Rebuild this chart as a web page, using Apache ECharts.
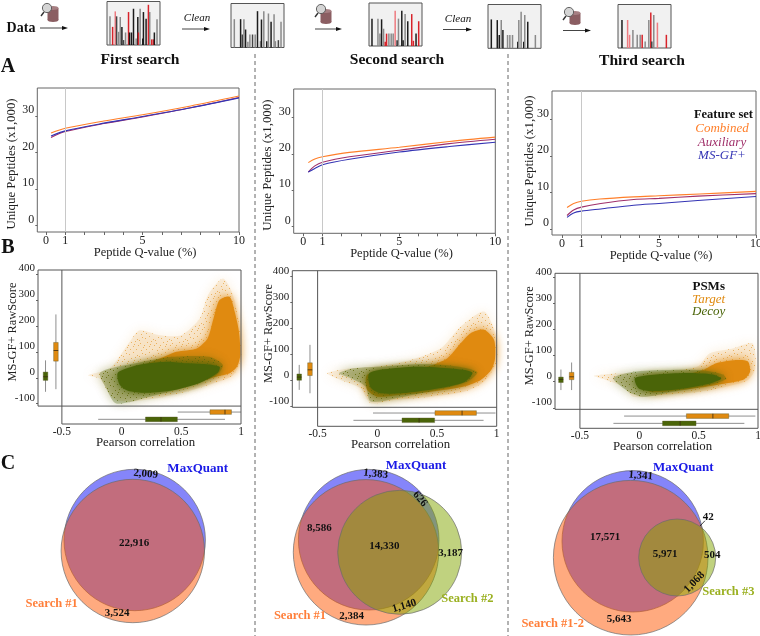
<!DOCTYPE html>
<html><head><meta charset="utf-8">
<style>html,body{margin:0;padding:0;background:#fff}#c{width:760px;height:636px}</style>
<script src="https://cdn.jsdelivr.net/npm/echarts@6/dist/echarts.min.js"></script>
</head><body><div id="c"></div>
<script>
// ---- Panel A: peptide curves  [q-value %, unique peptides x1000]
const a1Combined=[[.26,25.3],[1,26.6],[3,28.6],[5,30.3],[7.5,32.7],[10,35.4]];
const a1Auxiliary=[[.26,24.1],[1,25.7],[3,27.9],[5,29.7],[7.5,32.2],[10,35.0]];
const a1MsGf=[[.26,24.5],[1,25.9],[3,28.0],[5,29.8],[7.5,32.2],[10,34.9]];
const a2Combined=[[.26,17.6],[.6,18.6],[1,19.2],[2.4,20.4],[5,21.8],[7.6,23.4],[10,24.6]];
const a2Auxiliary=[[.26,15.0],[.6,16.7],[1,17.7],[2.4,19.2],[5,21.0],[7.6,22.8],[10,24.0]];
const a2MsGf=[[.26,15.0],[.6,16.0],[1,17.0],[2.4,18.5],[5,20.5],[7.6,22.0],[10,23.2]];
const a3Combined=[[.26,5.9],[.6,7.0],[1,7.6],[1.95,8.2],[3.7,8.8],[5,9.1],[7.1,9.6],[10,10.3]];
const a3Auxiliary=[[.26,3.7],[.6,5.2],[1,6.0],[2,7.0],[3.7,8.1],[5,8.4],[7,9.0],[10,9.7]];
const a3MsGf=[[.26,3.2],[.6,4.4],[1,4.9],[2,5.5],[3.7,6.5],[5,7.0],[7,7.8],[10,8.9]];

// ---- Panel B: outlines of the PSM clouds [Pearson, RawScore]
const b1TargetHalo=[[-.282,10],[-.10,36],[.067,138],[.151,183],[.318,164],[.5,164],[.654,228],[.723,318],[.849,382],[.933,318],[.994,177],[1,74],[.933,10],[.765,-22],[.542,-54],[.29,-79],[.067,-92],[-.073,-79],[-.184,-3]];
const b1TargetCore=[[.15,42],[.32,74],[.46,100],[.63,113],[.72,151],[.77,228],[.82,299],[.905,312],[.947,254],[.983,177],[.994,87],[.966,42],[.905,17],[.793,4],[.654,-15],[.486,-35],[.318,-47],[.151,-41],[.095,-22],[.081,23]];
const b1DecoyHalo=[[-.184,17],[-.10,36],[.179,62],[.43,81],[.737,81],[.849,49],[.793,10],[.542,-35],[.235,-73],[-.045,-99],[-.128,-41]];
const b1DecoyCore=[[-.03,20],[.151,50],[.374,62],[.542,56],[.709,52],[.821,42],[.807,20],[.654,-20],[.43,-48],[.207,-58],[.053,-50],[-.017,-26]];
const b2TargetHalo=[[-.419,27],[-.223,46],[0,53],[.279,78],[.531,123],[.698,206],[.894,264],[.992,174],[1,72],[.894,-5],[.726,-44],[.447,-63],[.14,-76],[-.056,-88],[-.14,-31],[-.307,1]];
const b2TargetCore=[[-.084,21],[.196,40],[.419,53],[.587,85],[.698,142],[.782,181],[.894,194],[.978,155],[.986,85],[.955,40],[.866,1],[.726,-24],[.447,-44],[.196,-56],[0,-63],[-.084,-37]];
const b2DecoyHalo=[[-.321,27],[-.196,46],[.056,53],[.391,62],[.67,53],[.838,31],[.754,-5],[.503,-37],[.223,-63],[-.056,-82],[-.098,-24],[-.223,8]];
const b2DecoyCore=[[-.07,25],[.056,42],[.335,52],[.615,45],[.796,30],[.726,-8],[.503,-32],[.251,-48],[.028,-50],[-.056,-28]];
const b3TargetHalo=[[-.385,23],[-.19,32],[.089,36],[.486,58],[.592,109],[.788,128],[.955,147],[.978,51],[.913,6],[.732,-19],[.508,-38],[.173,-51],[-.05,-58],[-.134,-19],[-.274,6]];
const b3TargetCore=[[.034,10],[.341,23],[.536,45],[.648,71],[.788,83],[.913,79],[.933,38],[.885,10],[.732,-6],[.564,-19],[.341,-32],[.089,-38]];
const b3DecoyHalo=[[-.218,13],[-.05,38],[.229,45],[.508,45],[.704,28],[.732,10],[.564,-15],[.285,-38],[.034,-58],[-.092,-38]];
const b3DecoyCore=[[-.036,14],[.145,28],[.397,34],[.62,28],[.69,12],[.564,-10],[.313,-30],[.089,-36],[-.008,-24]];

// ---- Panel B boxplots [position, low, q1, median, q3, high]
const b1ScoreTarget=[-.55,-44,64,105,136,244], b1ScoreDecoy=[-.637,-54,-10,4,22,67];
const b1PearsonTarget=[-132,.47,.74,.866,.92,1], b1PearsonDecoy=[-160,-.196,.20,.33,.467,.866];
const b2ScoreTarget=[-.564,-50,18,40,67,136], b2ScoreDecoy=[-.654,-37,0,12,24,59];
const b2PearsonTarget=[-126,-.036,.483,.71,.83,.99], b2PearsonDecoy=[-154,-.2,.207,.35,.48,.89];
const b3ScoreTarget=[-.57,-32,8,19,36,74], b3ScoreDecoy=[-.66,-32,-3,9,18,47];
const b3PearsonTarget=[-132,-.128,.397,.62,.754,.978], b3PearsonDecoy=[-160,-.218,.196,.344,.478,.885];

// ---- Panel C: Venn circles [cx, cy, r]
const venn1Circles=[[134.7,90,70.7],[132.8,101,71.7]];
const venn2Circles=[[108.7,89.7,70.3],[106,102.3,72.7],[139.7,102.3,62]];
const venn3Circles=[[122.7,91.3,70.7],[120.7,107.7,77.3],[167.2,107.5,38.5]];

// ---- Schematic spectra [m/z slot, intensity, kind]
const spectrum1=[[9,87,'g'],[17,55,'r'],[25,102,'p'],[29,87,'d'],[35,40,'g'],[40,85,'g'],[45,55,'k'],[50,15,'d'],[56,38,'g'],[65,100,'r'],[68,38,'k'],[74,38,'k'],[80,110,'k'],[88,20,'g'],[93,85,'k'],[95,38,'r'],[100,110,'g'],[108,20,'k'],[110,100,'k'],[118,80,'k'],[125,122,'r'],[129,100,'g'],[135,17,'r'],[140,17,'r'],[143,38,'k'],[151,78,'g']];
const spectrum2=[[10,85,'g'],[29,85,'k'],[34,39,'d'],[39,85,'g'],[44,54,'k'],[51,17,'g'],[57,39,'g'],[65,39,'d'],[73,39,'g'],[80,109,'k'],[89,19,'g'],[92,84,'k'],[99,109,'g'],[108,19,'k'],[113,102,'g'],[121,77,'k'],[130,100,'g'],[134,19,'g'],[143,22,'d'],[151,77,'g']];
const spectrum3=[[9,84,'k'],[27,84,'g'],[33,38,'g'],[38,82,'k'],[44,53,'g'],[49,13,'r'],[53,38,'r'],[60,38,'g'],[67,38,'g'],[73,38,'g'],[79,108,'p'],[85,18,'k'],[89,84,'g'],[99,108,'k'],[103,18,'k'],[109,98,'g'],[117,76,'k'],[129,98,'r'],[134,16,'r'],[142,38,'k'],[150,76,'r']];
const spectrum4=[[10,87,'k'],[28,85,'k'],[34,40,'k'],[40,85,'g'],[45,55,'k'],[59,40,'g'],[66,40,'g'],[74,40,'g'],[90,20,'k'],[93,85,'g'],[100,110,'g'],[108,20,'k'],[111,100,'g'],[120,80,'k'],[143,40,'g']];
const spectrum5=[[12,85,'k'],[29,85,'p'],[35,40,'p'],[45,55,'g'],[58,40,'g'],[67,40,'g'],[73,40,'r'],[82,20,'g'],[93,85,'g'],[99,108,'r'],[102,20,'d'],[108,100,'g'],[119,77,'p'],[146,40,'r']];

// ---- Text
const featureSet=['Combined','Auxiliary','MS-GF+'];
const psmKinds=['Target','Decoy'];
const titles=['First search','Second search','Third search'];
const yTicksA=[0,10,20,30], xTicksA=[0,1,5,10], xMinorA=[0,1,2,3,4,5,6,7,8,9,10];
const yTicksB=[-100,0,100,200,300,400], xTicksB=[-.5,0,.5,1];

const SERIF='"Liberation Serif"';
const INK='#222', FRAME='#666';
const LINECOL=['#ff7f2a','#a0306a','#3434b4'];
const TARGET='#e08a10', DECOY='#4a6408';
const SPEC={k:'#1c1c1c',d:'#444',g:'#8a8a8a',r:'#d8232a',p:'#ee7b80'};
const NOLINE={show:false,onZero:false};

const grid=[],xAxis=[],yAxis=[],series=[];
function addGrid(g,x,y){const n=grid.length;g.outerBoundsMode='none';grid.push(g);
  x.gridIndex=n;y.gridIndex=n;x.nameMoveOverlap=false;y.nameMoveOverlap=false;xAxis.push(x);yAxis.push(y);return n;}

// speckle tile used to fill the sparse fringe of a PSM cloud
const SPECKS=[[1,2],[5,0],[9,3],[14,1],[3,6],[7,5],[12,7],[0,9],[5,10],[10,9],[15,11],[2,13],[8,13],[13,14],[6,8],[11,4]];
function speckle(color){
  const c=document.createElement('canvas');c.width=c.height=16;const x=c.getContext('2d');x.fillStyle=color;x.globalAlpha=.55;
  SPECKS.forEach(p=>x.fillRect(p[0],p[1],1,1));
  return {image:c,repeat:'repeat'};
}

// ---- A panels
function panelA(box,xMin,yMin,yMax,curves,gap,pad){
  const i=addGrid({left:box[0],top:box[1],width:box[2]-box[0],height:box[3]-box[1],show:true,borderColor:FRAME,borderWidth:1},
   {type:'value',min:xMin,max:10,splitLine:{show:false},axisLine:NOLINE,
    axisTick:{customValues:xMinorA,length:3,lineStyle:{color:FRAME}},
    axisLabel:{customValues:xTicksA,margin:3,fontFamily:SERIF,fontSize:12,color:INK},
    name:'Peptide Q-value (%)',nameLocation:'middle',nameGap:14,nameTextStyle:{fontFamily:SERIF,fontSize:12.5,color:INK,padding:[0,0,0,14]}},
   {type:'value',min:yMin,max:yMax,splitLine:{show:false},axisLine:NOLINE,
    axisTick:{customValues:yTicksA,length:2,lineStyle:{color:FRAME}},
    axisLabel:{customValues:yTicksA,margin:3,verticalAlign:'bottom',fontFamily:SERIF,fontSize:12,color:INK},
    name:'Unique Peptides (x1,000)',nameLocation:'middle',nameGap:gap,nameTextStyle:{fontFamily:SERIF,fontSize:12.8,color:INK,padding:pad}});
  curves.forEach((c,k)=>series.push({type:'line',name:featureSet[k],xAxisIndex:i,yAxisIndex:i,data:c,showSymbol:false,smooth:.3,silent:true,
     lineStyle:{color:LINECOL[k],width:1.1},z:3,
     markLine:k?undefined:{silent:true,symbol:'none',label:{show:false},lineStyle:{color:'#c8c8c8',width:1,type:'solid'},data:[{xAxis:1}]}}));
}
panelA([37.3,88,239,232],-.45,-1.72,37.6,[a1Combined,a1Auxiliary,a1MsGf],19,[0,8,0,0]);
panelA([293.7,89,495.3,233.3],-.5,-1.8,37.8,[a2Combined,a2Auxiliary,a2MsGf],20,[0,8,0,0]);
panelA([552,91,756,235],-.515,-1.64,37.8,[a3Combined,a3Auxiliary,a3MsGf],16,[0,0,0,4]);

// ---- B panels
function cloud(i,pts,fill,blur,opacity){
  series.push({type:'custom',xAxisIndex:i,yAxisIndex:i,data:pts,silent:true,clip:false,z:2,
    renderItem(p,api){ if(p.dataIndex!==0) return;
      const st={fill:fill}; if(blur){st.shadowBlur=blur;st.shadowColor=fill;} if(opacity) st.opacity=opacity;
      return {type:'polygon',shape:{points:pts.map(v=>api.coord(v)),smooth:.25},style:st}; }});
}
function box(i,v,color,horizontal){
  series.push({type:'custom',xAxisIndex:i,yAxisIndex:i,data:[v],silent:true,clip:false,z:4,
    renderItem(p,api){
      const P=(a,b)=>horizontal?api.coord([b,a]):api.coord([a,b]);
      const pos=api.value(0),lo=api.value(1),q1=api.value(2),med=api.value(3),q3=api.value(4),hi=api.value(5);
      const a=P(pos,lo),b=P(pos,hi),c=P(pos,q1),d=P(pos,q3),m=P(pos,med),hw=2.3;
      const rect=horizontal?{x:c[0],y:c[1]-hw,width:d[0]-c[0],height:hw*2}:{x:c[0]-hw,y:d[1],width:hw*2,height:c[1]-d[1]};
      const ml=horizontal?{x1:m[0],y1:m[1]-hw,x2:m[0],y2:m[1]+hw}:{x1:m[0]-hw,y1:m[1],x2:m[0]+hw,y2:m[1]};
      return {type:'group',children:[
        {type:'line',shape:{x1:a[0],y1:a[1],x2:b[0],y2:b[1]},style:{stroke:'#8f8f8f',lineWidth:1}},
        {type:'rect',shape:rect,style:{fill:color,stroke:'#5a5a30',lineWidth:.4}},
        {type:'line',shape:ml,style:{stroke:'#3a2a10',lineWidth:.8}}]};
    }});
}
function panelB(b,xMin,yMax,yMid,yBot,cl,bx,gap,shift){
  const i=addGrid({left:b[0],top:b[1],width:b[2]-b[0],height:b[3]-b[1]},
   {type:'value',min:xMin,max:1,splitLine:{show:false},axisLine:NOLINE,axisTick:{show:false},
    axisLabel:{customValues:xTicksB,margin:2,fontFamily:SERIF,fontSize:11.5,color:INK},
    name:'Pearson correlation',nameLocation:'middle',nameGap:12,nameTextStyle:{fontFamily:SERIF,fontSize:12.8,color:INK,padding:[0,0,0,12]}},
   {type:'value',min:yBot,max:yMax,splitLine:{show:false},axisLine:NOLINE,
    axisTick:{customValues:yTicksB,length:2,lineStyle:{color:FRAME}},
    axisLabel:{customValues:yTicksB,margin:3,verticalAlign:'bottom',fontFamily:SERIF,fontSize:11,color:INK},
    name:'MS-GF+ RawScore',nameLocation:'middle',nameGap:gap,nameTextStyle:{fontFamily:SERIF,fontSize:12.4,color:INK,padding:[0,0,0,shift]}});
  cloud(i,cl[0],TARGET,12,.13); cloud(i,cl[0],speckle(TARGET),0); cloud(i,cl[1],TARGET,10);
  cloud(i,cl[2],DECOY,10,.3); cloud(i,cl[2],speckle(DECOY),0); cloud(i,cl[3],DECOY,7);
  box(i,bx[0],TARGET,false); box(i,bx[1],DECOY,false); box(i,bx[2],TARGET,true); box(i,bx[3],DECOY,true);
  const frame=[[[xMin,yMax],[1,yMax],[1,yBot],[-.5,yBot],[-.5,yMax]],[[xMin,yMax],[xMin,yMid],[1,yMid]]];
  frame.forEach(d=>series.push({type:'line',xAxisIndex:i,yAxisIndex:i,data:d,showSymbol:false,silent:true,clip:false,z:5,lineStyle:{color:'#555',width:1}}));
}
panelB([38,270,241,424],-.70,415,-109,-178,[b1TargetHalo,b1TargetCore,b1DecoyHalo,b1DecoyCore],[b1ScoreTarget,b1ScoreDecoy,b1PearsonTarget,b1PearsonDecoy],19,30);
panelB([292.3,270.7,496.7,426.3],-.712,421,-104,-177,[b2TargetHalo,b2TargetCore,b2DecoyHalo,b2DecoyCore],[b2ScoreTarget,b2ScoreDecoy,b2PearsonTarget,b2PearsonDecoy],18,30);
panelB([555,273.3,758,428.3],-.71,417,-106,-179,[b3TargetHalo,b3TargetCore,b3DecoyHalo,b3DecoyCore],[b3ScoreTarget,b3ScoreDecoy,b3PearsonTarget,b3PearsonDecoy],19,30);

// ---- C panels
const VENNCOL=['rgba(11,11,245,.5)','rgba(255,85,0,.5)','rgba(130,165,0,.5)'];
function venn(left,circles){
  const i=addGrid({left:left,top:450,width:250,height:186},
    {type:'value',min:0,max:250,show:false},{type:'value',min:0,max:186,inverse:true,show:false});
  series.push({type:'custom',xAxisIndex:i,yAxisIndex:i,data:circles,silent:true,clip:false,z:2,
    renderItem(p,api){const c=api.coord([api.value(0),api.value(1)]);const r=api.size([api.value(2),0])[0];
      return {type:'circle',shape:{cx:c[0],cy:c[1],r:r},style:{fill:VENNCOL[p.dataIndex],stroke:'#6b6b6b',lineWidth:.7}};}});
}
venn(0,venn1Circles);venn(260,venn2Circles);venn(510,venn3Circles);

// ---- Spectra
function spectrum(b,data){
  const i=addGrid({left:b[0],top:b[1],width:b[2]-b[0],height:b[3]-b[1],show:true,backgroundColor:'#f1f1f1',borderColor:'#555',borderWidth:1},
    {type:'value',min:0,max:160,show:false},{type:'value',min:0,max:132,show:false});
  series.push({type:'bar',xAxisIndex:i,yAxisIndex:i,barWidth:1.5,silent:true,
    data:data.map(d=>({value:[d[0],d[1]],itemStyle:{color:SPEC[d[2]]}}))});
}
spectrum([107,1.5,160,45],spectrum1);spectrum([231,3.5,284,47.5],spectrum2);spectrum([369,3,422,46],spectrum3);spectrum([488,4.5,541,48.3],spectrum4);spectrum([618,4.5,671,48],spectrum5);

// ---- Text, arrows, icons
const g=[];
function T(s,x,y,o){o=o||{};g.push({type:'text',x:x,y:y,rotation:o.rot||0,z:50,silent:true,
  style:{text:s,fill:o.c||'#111',font:(o.i?'italic ':'')+(o.b===false?'':'bold ')+(o.s||11)+'px '+SERIF,align:o.a||'center',verticalAlign:'middle'}});}
function arrow(x1,x2,y){
  g.push({type:'line',z:40,silent:true,shape:{x1:x1,y1:y,x2:x2-4,y2:y},style:{stroke:'#444',lineWidth:1}});
  g.push({type:'polygon',z:40,silent:true,shape:{points:[[x2,y],[x2-6,y-2],[x2-6,y+2]]},style:{fill:'#111'}});
}
function icon(cx,top,h,lx,ly){
  const w=11;
  g.push({type:'rect',z:40,silent:true,shape:{x:cx-w/2,y:top+2,width:w,height:h-4},style:{fill:'#8b5e62'}});
  g.push({type:'ellipse',z:40,silent:true,shape:{cx:cx,cy:top+h-2,rx:w/2,ry:2},style:{fill:'#8b5e62'}});
  g.push({type:'ellipse',z:40,silent:true,shape:{cx:cx,cy:top+2,rx:w/2,ry:2},style:{fill:'#a67f82'}});
  g.push({type:'line',z:41,silent:true,shape:{x1:lx-3,y1:ly+4,x2:lx-6,y2:ly+8},style:{stroke:'#333',lineWidth:1.4}});
  g.push({type:'circle',z:41,silent:true,shape:{cx:lx,cy:ly,r:4.6},style:{fill:'#d4d4d4',stroke:'#555',lineWidth:.9}});
}
[255,508].forEach(x=>g.push({type:'line',z:1,silent:true,shape:{x1:x,y1:54,x2:x,y2:636},style:{stroke:'#666',lineWidth:1,lineDash:[4,3]}}));
T('Data',21,28,{s:14});
arrow(40,68,28);arrow(182,210,29);arrow(315,342,29);arrow(443,472,29.5);arrow(563,591,30.5);
T('Clean',197,18,{i:1,b:false,s:11});T('Clean',458,19,{i:1,b:false,s:11});
icon(53,6,16,47,8);icon(326,9,15,321,9);icon(575,11,14,569,12);
T(titles[0],140,59.5,{s:15.6});T(titles[1],397,60,{s:15.6});T(titles[2],642,61,{s:15.6});
T('A',8,67,{s:20});T('B',8,248,{s:20});T('C',8,464,{s:20});
// legends
T('Feature set',753,115,{s:12.5,a:'right'});
featureSet.forEach((s,k)=>T(s,722,129+13.5*k,{i:1,b:false,s:13,c:LINECOL[k]}));
T('PSMs',708.7,287,{s:13});
T(psmKinds[0],708.7,299.5,{i:1,b:false,s:13,c:TARGET});T(psmKinds[1],708.7,312,{i:1,b:false,s:13,c:DECOY});
// venn text
const MQ='#1a1ae6',S1='#ff7f3a',S2='#9ab020';
T('MaxQuant',197.7,469,{s:13,c:MQ});T('MaxQuant',416,465.7,{s:13,c:MQ});T('MaxQuant',683.3,467.3,{s:13,c:MQ});
T('Search #1',51.7,604,{s:12.5,c:S1});T('Search #1',300,616,{s:12.5,c:S1});T('Search #1-2',552.7,623.3,{s:12.5,c:S1});
T('Search #2',467.3,598.3,{s:12.5,c:S2});T('Search #3',728.3,591.3,{s:12.5,c:S2});
T('2,009',145.7,474,{rot:-.08});T('22,916',134,543);T('3,524',117,613);
T('1,383',375.7,474,{rot:-.1});T('626',420,499,{rot:-.87});T('8,586',319.3,528.3);T('14,330',384.3,545.7);T('3,187',450.7,552.7);T('1,140',404.3,606,{rot:.3});T('2,384',351.7,615.7);
T('1,341',640.7,475.7,{rot:-.08});T('42',708.3,516.7);T('17,571',605,536.7);T('5,971',665,554);T('504',712.3,555.3);T('1,068',694.3,582.3,{rot:.8});T('5,643',619,619);
g.push({type:'line',z:50,silent:true,shape:{x1:700,y1:526,x2:705,y2:520.7},style:{stroke:'#111',lineWidth:.8}});

const chart=echarts.init(document.getElementById('c'),null,{renderer:'canvas'});
chart.setOption({animation:false,backgroundColor:'#fff',grid,xAxis,yAxis,series,graphic:{elements:g}});
</script></body></html>
